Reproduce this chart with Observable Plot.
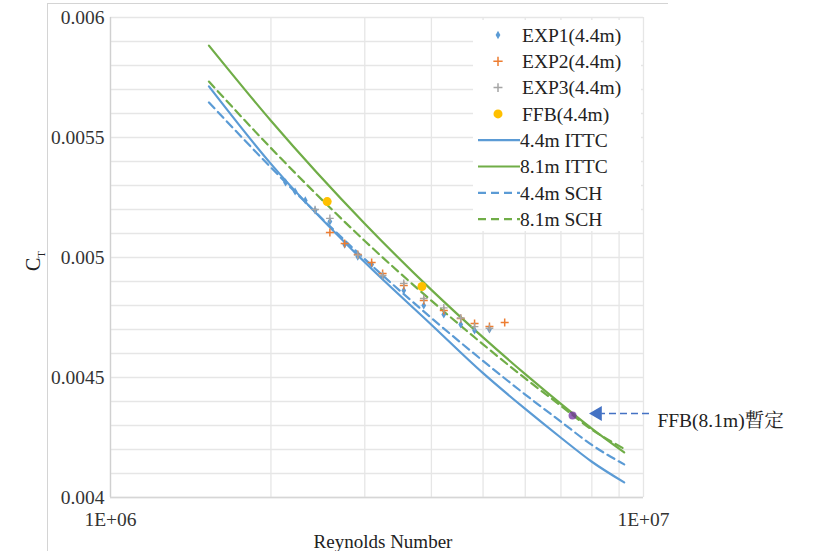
<!DOCTYPE html>
<html><head><meta charset="utf-8">
<script src="https://cdn.jsdelivr.net/npm/d3@7"></script>
<script src="https://cdn.jsdelivr.net/npm/@observablehq/plot@0.6"></script>
<style>
body{margin:0;background:#fff}
#wrap{position:relative;width:813px;height:551px;overflow:hidden;background:#fff}
#frame{position:absolute;left:47px;top:3px;width:620px;height:600px;border-left:1px solid #d4d4d4;border-top:1px solid #d4d4d4;pointer-events:none}
#legend{position:absolute;left:473px;top:20px;width:168px;height:211px;background:#fff}
#legend svg{display:block}
</style>
</head><body>
<div id="wrap"><div id="chart"></div><div id="frame"></div><div id="legend"></div></div>
<script>
// ---- data ----
const reLine = [1.53e6, 2e6, 3e6, 4e6, 5e6, 6e6, 7e6, 8e6, 9.2e6];
const ittc44 = [0.005713, 0.005390, 0.004980, 0.004720, 0.004518, 0.004369, 0.004249, 0.004149, 0.004063];
const ittc81 = [0.005883, 0.005570, 0.005141, 0.004865, 0.004667, 0.004514, 0.004390, 0.004287, 0.004188];
const sch44  = [0.005646, 0.005375, 0.004993, 0.004748, 0.004569, 0.004429, 0.004316, 0.004219, 0.004138];
const sch81  = [0.005733, 0.005456, 0.005069, 0.004820, 0.004638, 0.004496, 0.004382, 0.004283, 0.004203];

const exp1Re = [2.13e6, 2.22e6, 2.32e6, 2.42e6, 2.58e6, 2.75e6, 2.91e6, 3.09e6, 3.24e6, 3.55e6, 3.87e6, 4.22e6, 4.54e6, 4.82e6, 5.14e6];
const exp1Ct = [0.005313, 0.005275, 0.005238, 0.005196, 0.005150, 0.005054, 0.005004, 0.004971, 0.004921, 0.004863, 0.004800, 0.004763, 0.004721, 0.004696, 0.004700];
const exp2Re = [2.58e6, 2.75e6, 2.91e6, 3.09e6, 3.24e6, 3.55e6, 3.87e6, 4.22e6, 4.54e6, 4.82e6, 5.14e6, 5.49e6];
const exp2Ct = [0.005104, 0.005058, 0.005013, 0.004979, 0.004933, 0.004883, 0.004821, 0.004779, 0.004746, 0.004725, 0.004713, 0.004729];
const exp3Re = [2.42e6, 2.58e6, 2.91e6, 3.24e6, 3.55e6, 3.87e6, 4.22e6, 4.54e6, 4.82e6, 5.14e6];
const exp3Ct = [0.005200, 0.005163, 0.005010, 0.004925, 0.004892, 0.004829, 0.004790, 0.004748, 0.004712, 0.004705];
const ffb44Re = [2.55e6, 3.84e6];
const ffb44Ct = [0.005233, 0.004879];
const ffb81Re = [7.36e6];
const ffb81Ct = [0.004342];

const xGrid = [1e6, 2e6, 3e6, 4e6, 5e6, 6e6, 7e6, 8e6, 9e6, 1e7];
const yGrid = d3.range(0, 21).map(i => +(0.004 + i * 0.0001).toFixed(4));
const xTicks = [1e6, 1e7];
const xTickLabels = ["1E+06", "1E+07"];
const yTicks = [0.004, 0.0045, 0.005, 0.0055, 0.006];
const yTickLabels = ["0.004", "0.0045", "0.005", "0.0055", "0.006"];

const annText = "FFB(8.1m)暫定";
const annArrowRe = [1.024e7, 8.33e6];
const annHeadRe = 8.2e6;
const annCt = 0.00435;
const annTextRe = 1.062e7;
const annTextCt = 0.00432;

const xLabel = "Reynolds Number";
const legendNames = ["EXP1(4.4m)", "EXP2(4.4m)", "EXP3(4.4m)", "FFB(4.4m)", "4.4m ITTC", "8.1m ITTC", "4.4m SCH", "8.1m SCH"];

// ---- styles ----
const blue = "#5b9bd5", orange = "#ed7d31", gray = "#a5a5a5", gold = "#ffc000", green = "#70ad47", purple = "#7030a0", arrowBlue = "#4472c4";
const font = "'Liberation Serif', 'Times New Roman', serif";
const gridColor = "#e6e6e6";

const lineSeries = [
  {name: "4.4m ITTC", vals: ittc44, color: blue, dash: null},
  {name: "8.1m ITTC", vals: ittc81, color: green, dash: null},
  {name: "4.4m SCH", vals: sch44, color: blue, dash: "8,5"},
  {name: "8.1m SCH", vals: sch81, color: green, dash: "8,5"}
];
const pts = (re, ct) => re.map((r, i) => ({re: r, ct: ct[i]}));

const lineMarks = lineSeries.map(s => Plot.line(pts(reLine, s.vals), {
  x: "re", y: "ct", stroke: s.color, strokeWidth: 2.2, curve: "monotone-x",
  strokeDasharray: s.dash || undefined
}));

const plot = Plot.plot({
  width: 813, height: 551,
  marginLeft: 110, marginRight: 170, marginTop: 17, marginBottom: 54,
  style: {fontFamily: font, fontSize: "19px", color: "#333", background: "white", overflow: "visible"},
  x: {type: "log", domain: [1e6, 1e7], axis: null},
  y: {domain: [0.004, 0.006]},
  marks: [
    Plot.ruleX(xGrid, {stroke: gridColor, strokeWidth: 1.3}),
    Plot.ruleY(yGrid, {stroke: gridColor, strokeWidth: 1.3}),
    Plot.ruleX([1e6], {stroke: "#d0d0d0", strokeWidth: 1.3}),
    Plot.ruleY([0.004], {stroke: "#d6d6d6", strokeWidth: 1.5}),
    Plot.axisY({ticks: yTicks, tickFormat: d => yTickLabels[yTicks.indexOf(d)], tickSize: 0, tickPadding: 6, label: null, fontSize: 19.5, fill: "#333"}),
    Plot.text(xTicks, {x: d => d, text: (d, i) => xTickLabels[i], frameAnchor: "bottom", dy: 28, fontSize: 19.5, fill: "#333", fontFamily: font}),
    ...lineMarks,
    Plot.dot(pts(exp1Re, exp1Ct), {x: "re", y: "ct", symbol: "diamond", r: 2.5, fill: blue}),
    Plot.dot(pts(exp2Re, exp2Ct), {x: "re", y: "ct", symbol: "plus", r: 2.7, stroke: orange, strokeWidth: 1.5}),
    Plot.dot(pts(exp3Re, exp3Ct), {x: "re", y: "ct", symbol: "plus", r: 2.6, stroke: gray, strokeWidth: 1.4}),
    Plot.dot(pts(ffb44Re, ffb44Ct), {x: "re", y: "ct", r: 4.5, fill: gold}),
    Plot.dot(pts(ffb81Re, ffb81Ct), {x: "re", y: "ct", r: 4, fill: purple, fillOpacity: 0.75}),
    Plot.link([{x1: annArrowRe[0], x2: annArrowRe[1], y: annCt}], {x1: "x1", x2: "x2", y1: "y", y2: "y", stroke: arrowBlue, strokeWidth: 1.4, strokeDasharray: "7,4"}),
    Plot.dot([{x: annHeadRe, y: annCt}], {x: "x", y: "y", symbol: "triangle", r: 5.5, fill: arrowBlue, rotate: -90}),
    Plot.text([annText], {x: annTextRe, y: annTextCt, textAnchor: "start", fontSize: 19.5, fill: "#222",
      fontFamily: "'Liberation Serif', 'Noto Serif CJK TC', 'Noto Sans CJK TC', serif"}),
    Plot.text([xLabel], {frameAnchor: "bottom", dx: 6, dy: 50, fontSize: 19, fill: "#222", fontFamily: font})
  ]
});
document.getElementById("chart").appendChild(plot);

// y axis label C_T
const svg = d3.select(plot);
const yl = svg.append("text")
  .attr("transform", "translate(40,271) rotate(-90)")
  .attr("text-anchor", "start")
  .attr("font-family", font).attr("font-size", 20).attr("fill", "#222");
yl.append("tspan").text("C");
yl.append("tspan").attr("font-size", 11).attr("dy", 5).text("T");

// legend (HTML overlay with white background)
const lsvg = d3.select("#legend").append("svg").attr("width", 168).attr("height", 211);
const rowY = i => 15 + i * 26.3;
const legendStyle = [
  {type: "sym", sym: d3.symbolDiamond, size: 20, fill: blue},
  {type: "sym", sym: d3.symbolPlus, size: 30, stroke: orange},
  {type: "sym", sym: d3.symbolPlus, size: 28, stroke: gray},
  {type: "sym", sym: d3.symbolCircle, size: 64, fill: gold},
  {type: "line", color: blue, dash: null},
  {type: "line", color: green, dash: null},
  {type: "line", color: blue, dash: "8,5"},
  {type: "line", color: green, dash: "8,5"}
];
legendNames.forEach((name, i) => {
  const st = legendStyle[i];
  const y = rowY(i);
  if (st.type === "sym") {
    lsvg.append("path").attr("d", d3.symbol(st.sym, st.size)())
      .attr("transform", `translate(25,${y})`)
      .attr("fill", st.fill || "none").attr("stroke", st.stroke || "none").attr("stroke-width", 1.5);
  } else {
    const ln = lsvg.append("line").attr("x1", 5).attr("x2", 47).attr("y1", y).attr("y2", y)
      .attr("stroke", st.color).attr("stroke-width", 2.2);
    if (st.dash) ln.attr("stroke-dasharray", st.dash);
  }
  lsvg.append("text").attr("x", st.type === "sym" ? 49 : 47).attr("y", y).attr("dy", "0.35em")
    .attr("text-anchor", "start")
    .attr("font-family", font).attr("font-size", 19.5).attr("fill", "#222").text(name);
});
</script>
</body></html>
